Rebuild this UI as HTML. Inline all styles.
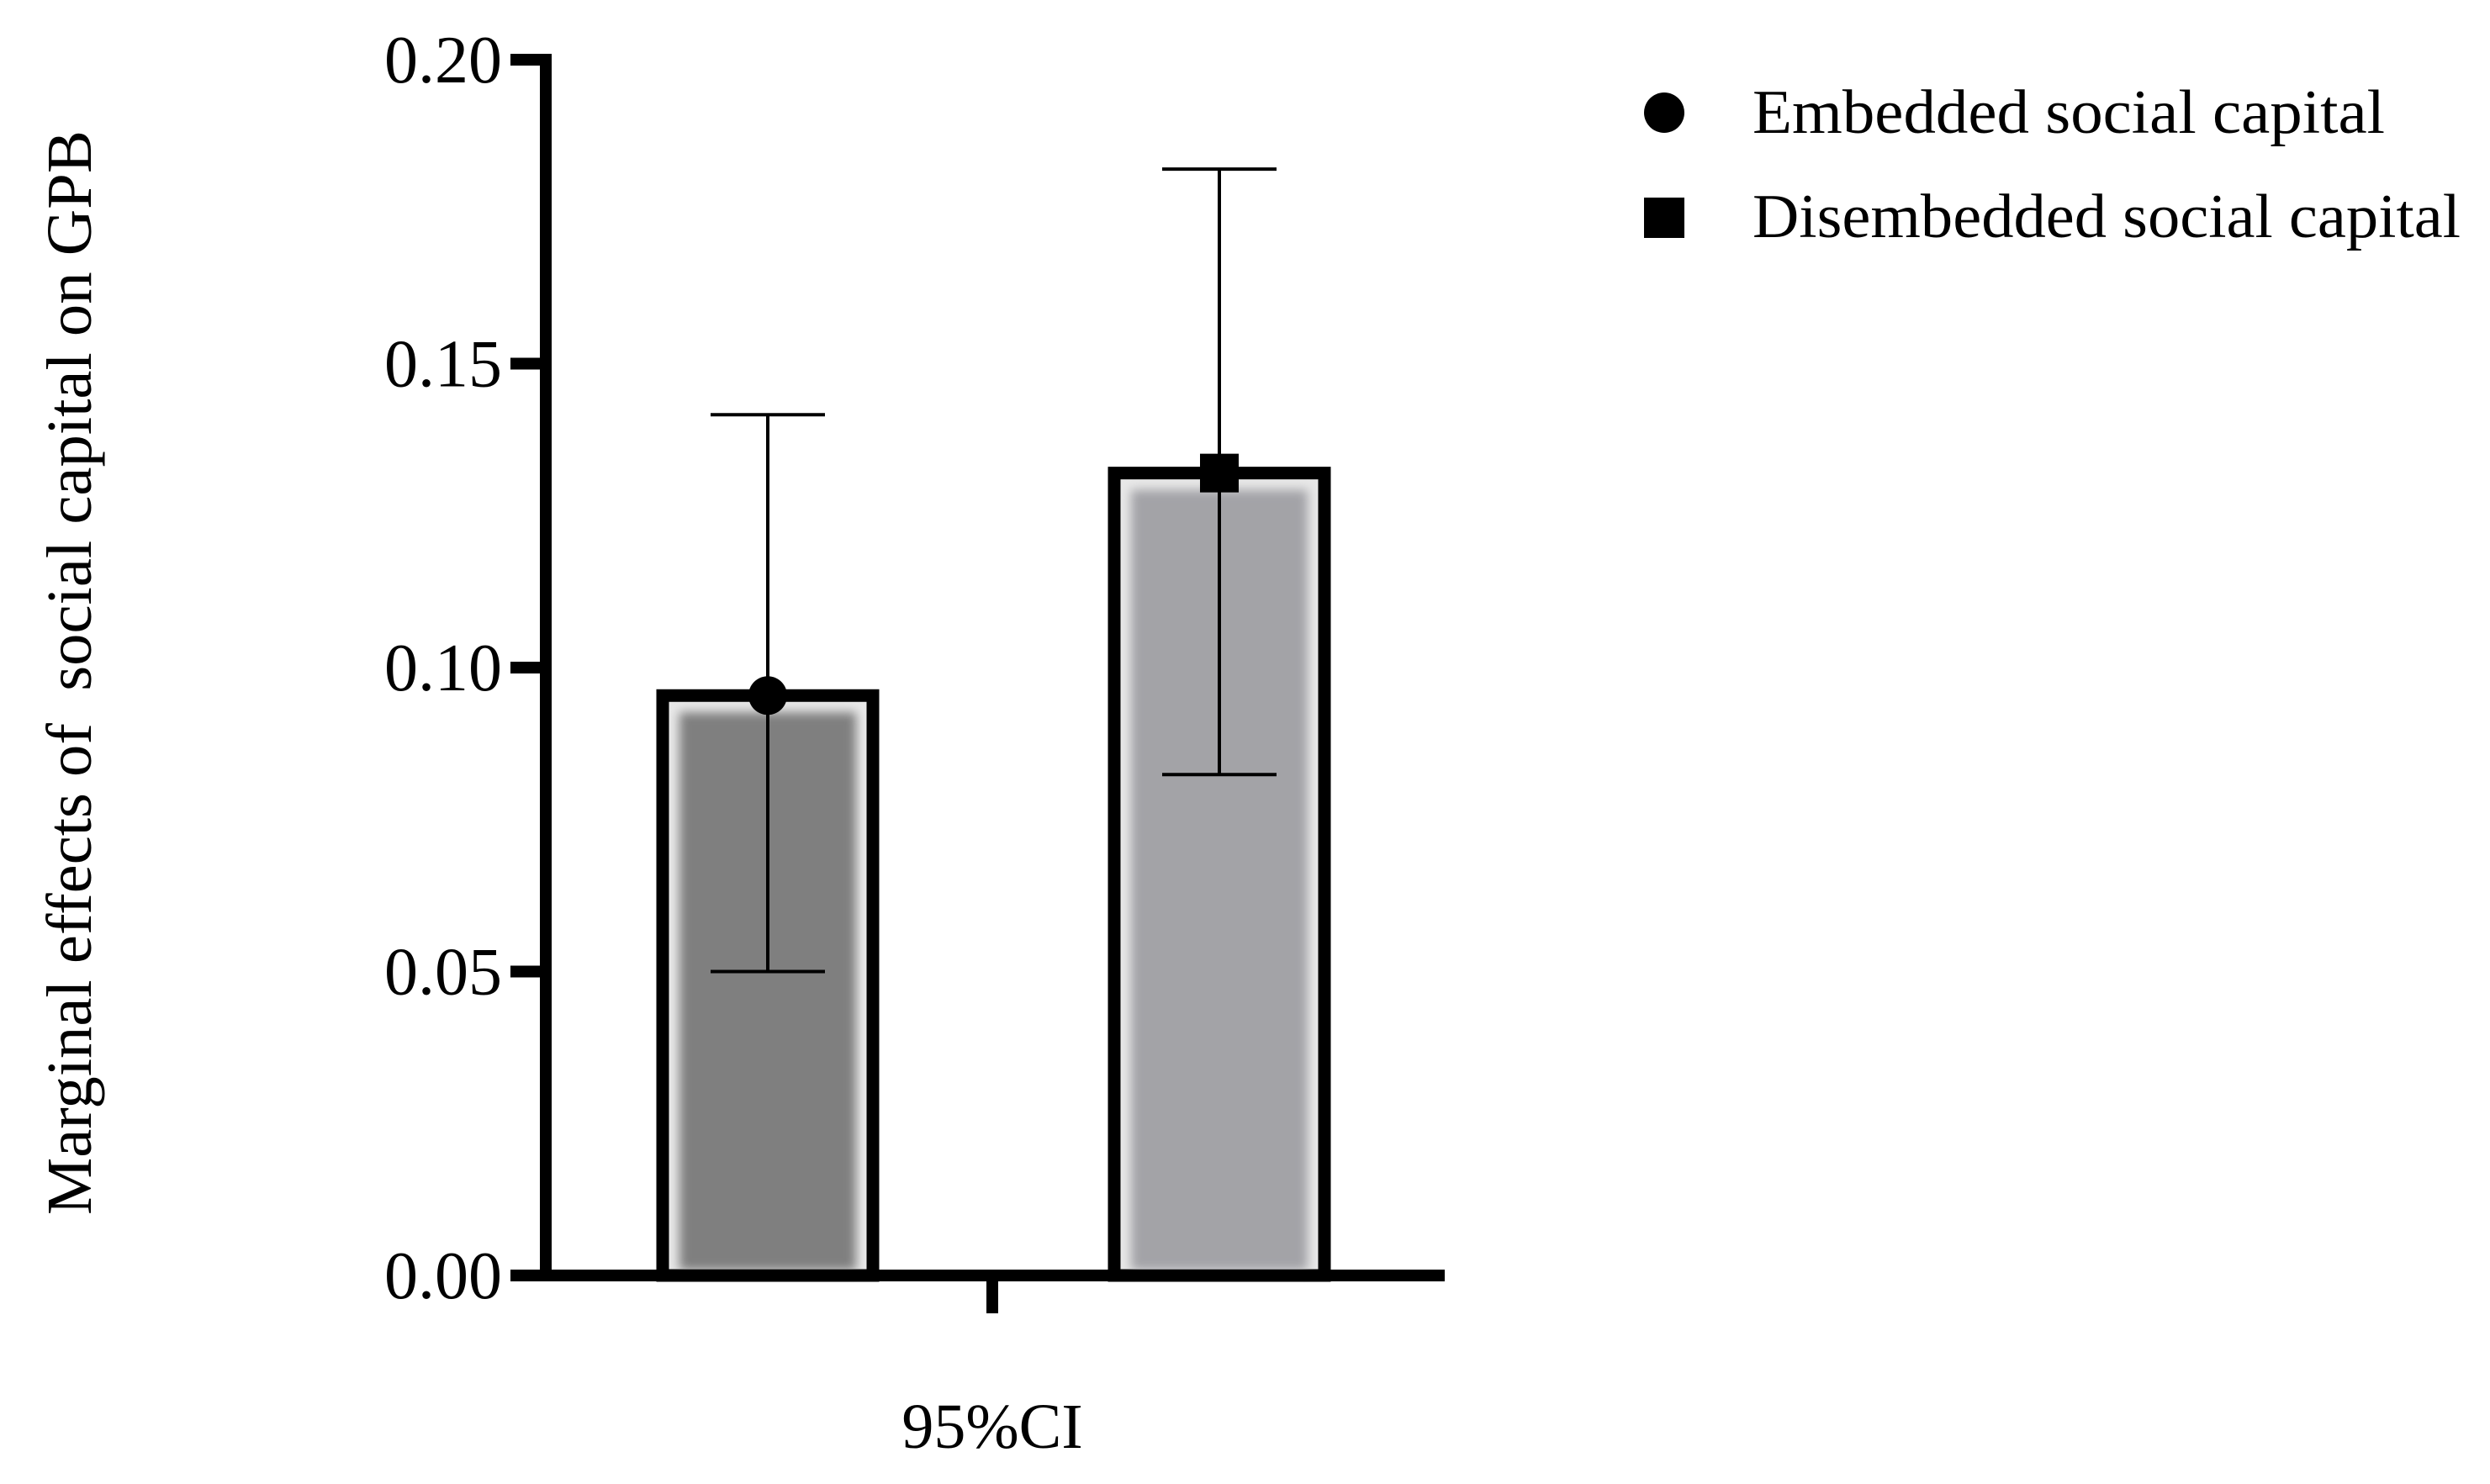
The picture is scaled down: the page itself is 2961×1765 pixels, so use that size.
<!DOCTYPE html>
<html><head><meta charset="utf-8"><style>
html,body{margin:0;padding:0;background:#fff;}
svg{display:block;font-family:"Liberation Serif",serif;}
</style></head><body>
<svg id="chart" width="2961" height="1765" viewBox="0 0 2961 1765">
<defs>
<filter id="soft" x="-5%" y="-5%" width="110%" height="110%"><feGaussianBlur stdDeviation="6"/></filter>
</defs>
<g id="plot"></g>
<text x="108" y="800" transform="rotate(-90 108 800)" text-anchor="middle" font-size="76" textLength="1290" lengthAdjust="spacingAndGlyphs">Marginal effects of&#160; social capital on GPB</text>
<text x="1180" y="1722" text-anchor="middle" font-size="76">95%CI</text>
<g>
<circle cx="1979" cy="134" r="24" fill="#000"/>
<text x="2084" y="158" font-size="74" textLength="752" lengthAdjust="spacingAndGlyphs">Embedded social capital</text>
<rect x="1955" y="235" width="48" height="48" fill="#000"/>
<text x="2084" y="282" font-size="74" textLength="842" lengthAdjust="spacingAndGlyphs">Disembedded social capital</text>
</g>
</svg>
<script>
const categories = ["Embedded social capital", "Disembedded social capital"];
const values = [0.0954, 0.132];
const lower = [0.050, 0.0824];
const upper = [0.1416, 0.182];
const ticks = [0, 0.05, 0.10, 0.15, 0.20];
const tickLabels = ["0.00", "0.05", "0.10", "0.15", "0.20"];
const fills = ["#7f7f7f", "#a3a3a7"];

const NS = "http://www.w3.org/2000/svg";
const g = document.getElementById("plot");
const y0 = 1517, y1 = 71;
function yScale(v){ return y0 + (y1 - y0) * (v / 0.20); }
const barCenters = [913, 1450], barW = 250;
function xScale(i){ return barCenters[i]; }
function mk(tag, attrs){ const e = document.createElementNS(NS, tag); for (const k in attrs) e.setAttribute(k, attrs[k]); g.appendChild(e); return e; }

values.forEach((v, i) => {
  const x = xScale(i) - barW/2, yt = yScale(v);
  const b = mk("rect", {x: x, y: yt, width: barW, height: y0 - yt, fill: "#e8e8e8", stroke: "#000", "stroke-width": 15});
  
  
  const inner = mk("rect", {x: x + 20, y: yt + 20, width: barW - 40, height: y0 - yt - 26, fill: fills[i], filter: "url(#soft)"});
  
  
});
values.forEach((v, i) => {
  const cx = xScale(i);
  const l = mk("line", {x1: cx, x2: cx, y1: yScale(upper[i]), y2: yScale(lower[i]), stroke: "#000", "stroke-width": 4});
  
  
  [upper[i], lower[i]].forEach(c => {
    const cap = mk("line", {x1: cx - 68, x2: cx + 68, y1: yScale(c), y2: yScale(c), stroke: "#000", "stroke-width": 4});
    
    
  });
  let m;
  if (i === 0) m = mk("circle", {cx: cx, cy: yScale(v), r: 23, fill: "#000"});
  else m = mk("rect", {x: cx - 23, y: yScale(v) - 23, width: 46, height: 46, fill: "#000"});
  
  
});
const ya = mk("line", {x1: 649, x2: 649, y1: 64, y2: 1524, stroke: "#000", "stroke-width": 14});


const xa = mk("line", {x1: 607, x2: 1718, y1: 1517, y2: 1517, stroke: "#000", "stroke-width": 14});


const xt = mk("line", {x1: 1180, x2: 1180, y1: 1517, y2: 1562, stroke: "#000", "stroke-width": 14});


ticks.forEach((t, i) => {
  const tl = mk("line", {x1: 607, x2: 649, y1: yScale(t), y2: yScale(t), stroke: "#000", "stroke-width": 14});
  
  
  const tx = mk("text", {x: 597, y: yScale(t) + 27, "text-anchor": "end", "font-size": 80});
  tx.textContent = tickLabels[i];
  
  
});
</script>
</body></html>
